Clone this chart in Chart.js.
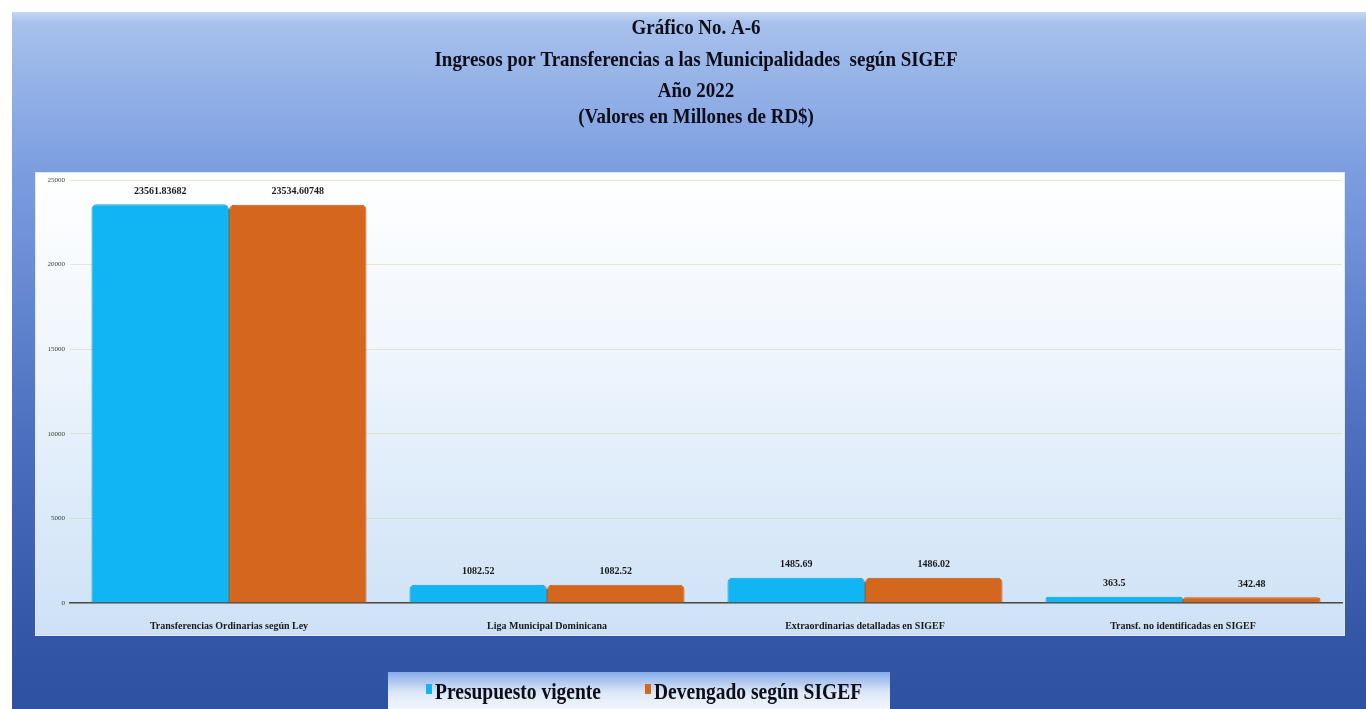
<!DOCTYPE html>
<html>
<head>
<meta charset="utf-8">
<script src="https://cdn.jsdelivr.net/npm/chart.js@4.4.0/dist/chart.umd.min.js"></script>
<style>
    html, body { margin: 0; padding: 0; background: #fff; overflow: hidden; }
    #wrap { width: 1366px; height: 709px; }
</style>
</head>
<body>
<div id="wrap"><canvas id="chart" width="1366" height="709"></canvas></div>
<script>
// Chart data
const categories = [
    'Transferencias Ordinarias según Ley',
    'Liga Municipal Dominicana',
    'Extraordinarias detalladas en SIGEF',
    'Transf. no identificadas en SIGEF'
];
const presupuestoVigente = [23561.83682, 1082.52, 1485.69, 363.5];
const devengadoSigef = [23534.60748, 1082.52, 1486.02, 342.48];
const yTicks = [0, 5000, 10000, 15000, 20000, 25000];
const titleLines = [
    'Gráfico No. A-6',
    'Ingresos por Transferencias a las Municipalidades  según SIGEF',
    'Año 2022',
    '(Valores en Millones de RD$)'
];

const SERIF = '"Liberation Serif", "Times New Roman", serif';

// draw text squeezed horizontally, like the narrow font of the original
function drawNarrow(ctx, text, x, y, sx) {
    ctx.save();
    ctx.translate(x, y);
    ctx.scale(sx, 1);
    ctx.fillText(text, 0, 0);
    ctx.restore();
}

// Backgrounds: blue panel, plot box, legend box
const backgroundPlugin = {
    id: 'backgroundPlugin',
    beforeDraw(chart) {
        const ctx = chart.ctx;
        ctx.save();
        ctx.fillStyle = '#ffffff';
        ctx.fillRect(0, 0, chart.width, chart.height);

        const g = ctx.createLinearGradient(0, 12, 0, chart.height);
        g.addColorStop(0, '#c6d7f2');
        g.addColorStop(0.015, '#a7c1ec');
        g.addColorStop(0.23, '#7b9de0');
        g.addColorStop(0.6, '#4d70c0');
        g.addColorStop(0.9, '#3456a6');
        g.addColorStop(1, '#2f51a2');
        ctx.fillStyle = g;
        ctx.fillRect(12, 12, chart.width - 12, chart.height - 12);

        const g2 = ctx.createLinearGradient(0, 172, 0, 636);
        g2.addColorStop(0, '#ffffff');
        g2.addColorStop(0.35, '#f1f7fd');
        g2.addColorStop(1, '#cde1f6');
        ctx.fillStyle = g2;
        ctx.fillRect(35, 172, 1310, 464);
        ctx.strokeStyle = '#dfe8f6';
        ctx.lineWidth = 1;
        ctx.strokeRect(35.5, 172.5, 1309, 463);

        const g3 = ctx.createLinearGradient(0, 672, 0, 709);
        g3.addColorStop(0, '#86abe8');
        g3.addColorStop(0.55, '#dce8f8');
        g3.addColorStop(1, '#f2f7fd');
        ctx.fillStyle = g3;
        ctx.fillRect(388, 672, 502, 37);
        ctx.restore();
    }
};

// Title lines and legend
const textPlugin = {
    id: 'textPlugin',
    afterDraw(chart) {
        const ctx = chart.ctx;
        ctx.save();
        ctx.fillStyle = '#0d0d1a';
        ctx.textAlign = 'center';
        ctx.textBaseline = 'middle';
        ctx.font = 'bold 22px ' + SERIF;
        const sx = 523 / ctx.measureText(titleLines[1]).width;
        const ys = [28, 60, 91, 117];
        titleLines.forEach((t, i) => drawNarrow(ctx, t, 696, ys[i], sx));

        // legend
        ctx.font = 'bold 24px ' + SERIF;
        ctx.textAlign = 'left';
        const lsx = 166 / ctx.measureText(chart.data.datasets[0].label).width;
        let x = 426;
        chart.data.datasets.forEach(ds => {
            ctx.fillStyle = ds.backgroundColor;
            ctx.fillRect(x, 684, 6, 10);
            ctx.fillStyle = '#0d0d1a';
            drawNarrow(ctx, ds.label, x + 9, 693, lsx);
            x += 9 + ctx.measureText(ds.label).width * lsx + 44;
        });
        ctx.restore();
    }
};

// Value labels over the bars
const valueLabels = {
    id: 'valueLabels',
    afterDatasetsDraw(chart) {
        const ctx = chart.ctx;
        ctx.save();
        ctx.fillStyle = '#1a1a1a';
        ctx.font = 'bold 10px ' + SERIF;
        ctx.textAlign = 'center';
        ctx.textBaseline = 'bottom';
        chart.data.datasets.forEach((ds, di) => {
            chart.getDatasetMeta(di).data.forEach((bar, i) => {
                ctx.fillText(String(ds.data[i]), bar.x, bar.y - 8);
            });
        });
        ctx.restore();
    }
};

const chart = new Chart(document.getElementById('chart'), {
    type: 'bar',
    data: {
        labels: categories,
        datasets: [
            {
                label: 'Presupuesto vigente',
                data: presupuestoVigente,
                backgroundColor: '#12b5f3',
                borderColor: '#0e9fd8',
                borderWidth: 1,
                borderRadius: { topLeft: 5, topRight: 5 },
                borderSkipped: 'bottom'
            },
            {
                label: 'Devengado según SIGEF',
                data: devengadoSigef,
                backgroundColor: '#d4661d',
                borderColor: '#c25a17',
                borderWidth: 1,
                borderRadius: { topLeft: 5, topRight: 5 },
                borderSkipped: 'bottom'
            }
        ]
    },
    options: {
        responsive: false,
        animation: false,
        devicePixelRatio: 1,
        categoryPercentage: 0.865,
        barPercentage: 1.0,
        layout: { padding: { top: 180, right: 24, bottom: 73, left: 30 } },
        plugins: {
            legend: { display: false },
            title: { display: false },
            tooltip: { enabled: false }
        },
        scales: {
            x: {
                grid: { display: false },
                border: { color: '#4a4a4a', width: 1.5 },
                ticks: {
                    color: '#1a1a1a',
                    padding: 9,
                    maxRotation: 0,
                    font: { family: SERIF, size: 10, weight: 'bold' }
                },
                afterFit(scale) { scale.height = 33; }
            },
            y: {
                min: 0,
                max: 25000,
                afterBuildTicks(scale) { scale.ticks = yTicks.map(v => ({ value: v })); },
                grid: { color: 'rgba(214, 208, 170, 0.5)', drawTicks: false },
                border: { display: false },
                ticks: {
                    color: '#3a3a3a',
                    padding: 5,
                    font: { family: SERIF, size: 7 },
                    callback: v => String(v)
                },
                afterFit(scale) { scale.width = 40; }
            }
        }
    },
    plugins: [backgroundPlugin, valueLabels, textPlugin]
});
</script>
</body>
</html>
